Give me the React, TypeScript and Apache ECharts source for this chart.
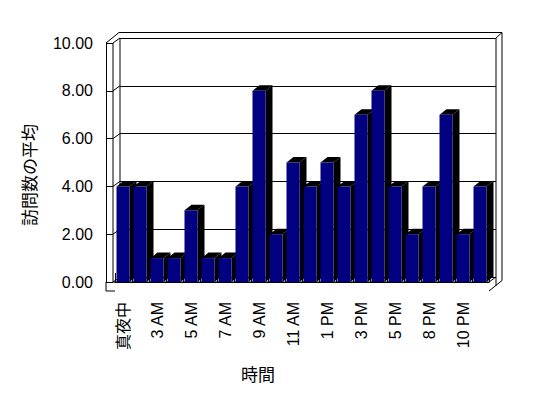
import React, { useEffect, useRef } from "react";
import * as echarts from "echarts";

const categories = [
  "真夜中", "1 AM", "3 AM", "4 AM", "5 AM", "6 AM", "7 AM", "8 AM", "9 AM", "10 AM", "11 AM",
  "正午", "1 PM", "2 PM", "3 PM", "4 PM", "5 PM", "7 PM", "8 PM", "9 PM", "10 PM", "11 PM",
];
const visits = [4, 4, 1, 1, 3, 1, 1, 4, 8, 2, 5, 4, 5, 4, 7, 8, 4, 2, 4, 7, 2, 4];
const yTicks = [0, 2, 4, 6, 8, 10];
const yName = "訪問数の平均";
const xName = "時間";

const FONT = "'Liberation Sans', 'Noto Sans CJK JP', sans-serif";
const DX = 7, DY = -5; // depth offset front -> inner back wall
const TX = 6, TY = -5.5; // back wall thickness
const WALL = 9; // left wall offset
const FLOOR = 9; // floor thickness

export default function App() {
  const ref = useRef<HTMLDivElement>(null);
  useEffect(() => {
    if (!ref.current) return;
    const chart = echarts.init(ref.current, null, { renderer: "svg" });
    const line = { stroke: "#000", lineWidth: 1, fill: null };
    chart.setOption({
      animation: false,
      backgroundColor: "#fff",
      grid: [
        { left: 115, right: 59, top: 43, bottom: 116 },
        { left: 120, right: 52, top: 38, bottom: 121 },
      ],
      xAxis: [
        {
          type: "category",
          gridIndex: 0,
          data: categories,
          boundaryGap: true,
          offset: FLOOR,
          axisLine: { show: true, lineStyle: { color: "#000", width: 1 } },
          axisTick: { show: true, inside: true, length: FLOOR, interval: 0, lineStyle: { color: "#000" } },
          axisLabel: { rotate: 90, interval: 1, margin: 11, fontSize: 16, color: "#000", fontFamily: FONT },
          splitLine: { show: false },
        },
        { type: "category", gridIndex: 1, data: categories, show: false },
      ],
      yAxis: [
        {
          type: "value",
          gridIndex: 0,
          min: 0,
          max: 10,
          interval: 2,
          offset: WALL,
          axisLine: { show: true, lineStyle: { color: "#000", width: 1 } },
          axisTick: { show: true, inside: true, length: WALL - 2, lineStyle: { color: "#000" } },
          axisLabel: { margin: 13, fontSize: 16, color: "#000", fontFamily: FONT, formatter: (v: number) => v.toFixed(2) },
          splitLine: { show: false },
        },
        {
          type: "value",
          gridIndex: 1,
          min: 0,
          max: 10,
          interval: 2,
          axisLine: { show: false },
          axisTick: { show: false },
          axisLabel: { show: false },
          splitLine: { show: true, lineStyle: { color: "#000", width: 1 } },
        },
      ],
      graphic: [
        {
          type: "text",
          x: 30,
          y: 175,
          rotation: Math.PI / 2,
          style: { text: yName, fontSize: 17, fill: "#000", fontFamily: FONT, textAlign: "center", textVerticalAlign: "middle" },
        },
        {
          type: "text",
          x: 258,
          y: 375,
          style: { text: xName, fontSize: 17, fill: "#000", fontFamily: FONT, textAlign: "center", textVerticalAlign: "middle" },
        },
      ],
      series: [
        {
          type: "custom",
          name: "frame",
          xAxisIndex: 0,
          yAxisIndex: 0,
          z: 1,
          clip: false,
          silent: true,
          data: yTicks.map((v) => [0, v]),
          renderItem: (params: any, api: any) => {
            const v = api.value(1);
            const cs = params.coordSys;
            const gx = cs.x;
            const gr = cs.x + cs.width;
            const y = api.coord([0, v])[1];
            const children: any[] = [
              { type: "line", shape: { x1: gx - 2, y1: y, x2: gx - 2 + DX, y2: y + DY }, style: line },
            ];
            if (params.dataIndexInside === 0) {
              const y0 = api.coord([0, 0])[1];
              const y10 = api.coord([0, 10])[1];
              const ob = gx - WALL; // outer left
              const segs = [
                [ob, y10, ob + DX + TX - 1 + 1, y10 + DY + TY],
                [ob + DX + TX, y10 + DY + TY, gr + DX + TX, y10 + DY + TY],
                [gr + DX, y10 + DY, gr + DX + TX, y10 + DY + TY],
                [gr + DX + TX, y10 + DY + TY, gr + DX + TX, y0 + FLOOR + DY + TY],
                [gr + DX, y10 + DY, gr + DX, y0 + FLOOR + DY],
                [gr, y0, gr + DX, y0 + DY],
                [gr, y0 + FLOOR, gr + DX + TX, y0 + FLOOR + DY + TY],
                [gx - 2, y10, gx - 2, y0],
                [gx - 2 + DX, y10 + DY, gx - 2 + DX, y0 + DY],
                [ob, y0, ob, y0 + FLOOR],
                [ob, y0 + FLOOR, gx, y0 + FLOOR],
                [gx - 2, y0, gr, y0],
              ];
              segs.forEach((s) =>
                children.push({ type: "line", shape: { x1: s[0], y1: s[1], x2: s[2], y2: s[3] }, style: line })
              );
            }
            return { type: "group", children };
          },
        },
        {
          type: "custom",
          name: "訪問数の平均",
          xAxisIndex: 0,
          yAxisIndex: 0,
          z: 3,
          clip: false,
          data: visits.map((v, i) => [i, v]),
          renderItem: (params: any, api: any) => {
            const i = api.value(0);
            const v = api.value(1);
            const top = api.coord([i, v]);
            const bot = api.coord([i, 0]);
            const w = api.size([1, 0])[0];
            const L = top[0] - w / 2 + 1.5;
            const R = L + 13;
            const t = top[1];
            const b = bot[1];
            return {
              type: "group",
              children: [
                {
                  type: "polygon",
                  shape: { points: [[R, b], [R, t], [R + DX, t + DY - 0.5], [R + DX, b + DY - 0.5]] },
                  style: { fill: "#000" },
                },
                {
                  type: "polygon",
                  shape: { points: [[L, t], [R, t], [R + DX, t + DY - 0.5], [L + DX, t + DY - 0.5]] },
                  style: { fill: "#000" },
                },
                {
                  type: "rect",
                  shape: { x: L, y: t, width: R - L, height: b - t },
                  style: { fill: "#000080" },
                },
              ],
            };
          },
        },
      ],
    });
    return () => chart.dispose();
  }, []);
  return <div ref={ref} style={{ position: "absolute", left: 0, top: 0, width: 548, height: 398 }} />;
}
